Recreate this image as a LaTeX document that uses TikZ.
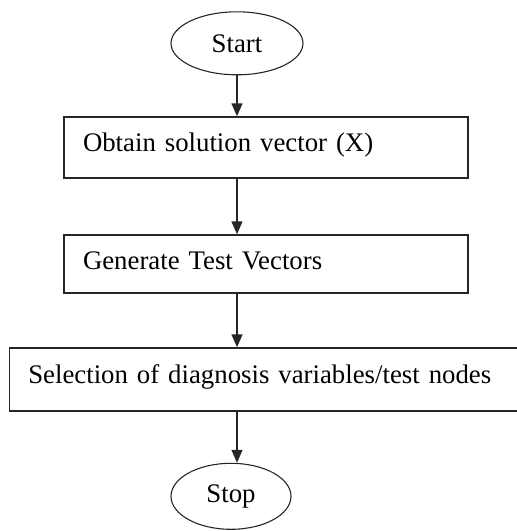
\documentclass[tikz,border=0pt]{standalone}
\usepackage{fontspec}
\setmainfont{Liberation Serif}
\usetikzlibrary{shapes.geometric,arrows.meta}
\begin{document}
\begin{tikzpicture}[x=1pt,y=-1pt,font=\fontsize{26.8}{32}\selectfont,
  term/.style={draw=black!85,line width=1.1pt,ellipse,inner sep=0pt},
  stepbox/.style={draw=black!85,line width=1.5pt,rectangle,inner xsep=19pt,inner ysep=0pt,align=left,
    text height=19pt,text depth=11pt},
  flow/.style={draw=black!85,line width=1.5pt,-{Triangle[length=13pt,width=11pt]}}]
\useasboundingbox (0,0) rectangle (517,531);
\node[term,minimum width=132pt,minimum height=63pt] (start) at (237,43.3) {Start};
\node[stepbox,text width=366pt,minimum height=61pt] (obtain) at (266,147.5) {Obtain solution vector (X)};
\node[stepbox,text width=366pt,minimum height=58pt,text depth=8pt] (gen) at (266,264) {Generate Test Vectors};
\node[stepbox,text width=502pt,minimum height=63pt] (select) at (279.3,379.5) {Selection of diagnosis variables/test nodes};
\node[term,minimum width=120pt,minimum height=66pt] (stop) at (231,496.3) {Stop};
\draw[flow] (start) -- (start |- obtain.north);
\draw[flow] (obtain.south -| start) -- (gen.north -| start);
\draw[flow] (gen.south -| start) -- (select.north -| start);
\draw[flow] (select.south -| start) -- (start |- stop.north);
\end{tikzpicture}
\end{document}
